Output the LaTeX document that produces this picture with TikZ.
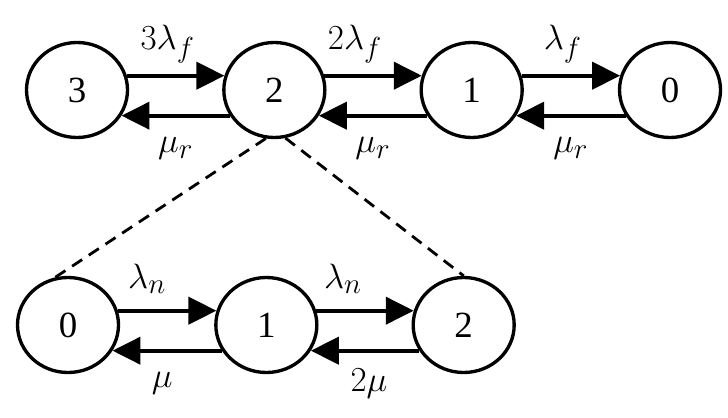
\RequirePackage{fix-cm}
\documentclass[tikz,border=0pt]{standalone}
\usepackage{amsmath}
\usepackage{fontspec}
\setmainfont{Liberation Serif}
\DeclareMathSizes{20}{20}{16.5}{13}
\usetikzlibrary{positioning,shapes.geometric,arrows.meta}
\tikzstyle{state} = [ellipse, draw=black, line width=1.9pt, minimum width=2.02cm, minimum height=1.9cm, inner sep=0pt, font=\fontsize{21}{25}\selectfont]
\tikzstyle{rate} = [line width=2.4pt, -{Triangle[length=0.56cm,width=0.54cm]}]
\tikzstyle{link} = [line width=1.6pt, dash pattern=on 0.24cm off 0.16cm]
\tikzstyle{toplbl} = [midway, yshift=0.64cm, font=\fontsize{20}{24}\selectfont]
\tikzstyle{botlbl} = [midway, yshift=-0.66cm, font=\fontsize{20}{24}\selectfont]

\begin{document}
\begin{tikzpicture}
            \useasboundingbox (0,0) rectangle (14.56,8.34);
            % failure chain
            \node[state] (t3) at (1.54,6.54) {3};
            \node[state, right=1.86cm of t3] (t2) {2};
            \node[state, right=1.86cm of t2] (t1) {1};
            \node[state, right=1.88cm of t1] (t0) {0};
            % repair chain of state 2
            \node[state] (b0) at (1.36,1.84) {0};
            \node[state, right=1.88cm of b0] (b1) {1};
            \node[state, right=1.86cm of b1] (b2) {2};

            \draw[rate] (t3.16) -- node[toplbl, xshift=-0.16cm] {$3\lambda_f$} (t2.164);
            \draw[rate] (t2.16) -- node[toplbl, xshift=-0.36cm] {$2\lambda_f$} (t1.164);
            \draw[rate] (t1.16) -- node[toplbl, xshift=-0.16cm] {$\lambda_f$} (t0.164);
            \draw[rate] (t2.210) -- node[botlbl] {$\mu_r$} (t3.330);
            \draw[rate] (t1.210) -- node[botlbl] {$\mu_r$} (t2.330);
            \draw[rate] (t0.210) -- node[botlbl] {$\mu_r$} (t1.330);

            \draw[rate] (b0.16) -- node[toplbl, xshift=-0.4cm] {$\lambda_n$} (b1.164);
            \draw[rate] (b1.16) -- node[toplbl, xshift=-0.44cm] {$\lambda_n$} (b2.164);
            \draw[rate] (b1.210) -- node[botlbl, xshift=-0.1cm] {$\mu$} (b0.330);
            \draw[rate] (b2.210) -- node[botlbl, xshift=0.08cm] {$2\mu$} (b1.330);

            \draw[link] (t2.260) -- (b0.105);
            \draw[link] (t2.283) -- (b2.90);
            \end{tikzpicture}
\end{document}
